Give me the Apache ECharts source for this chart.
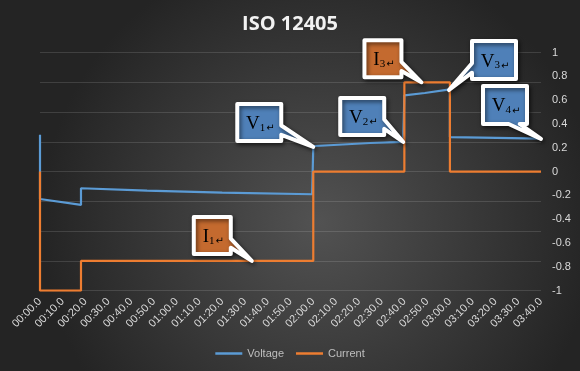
<!DOCTYPE html>
<html>
<head>
<meta charset="utf-8">
<script src="https://cdn.jsdelivr.net/npm/echarts@6/dist/echarts.min.js"></script>
<style>html,body{margin:0;padding:0;background:#2b2b2b;}#c{width:580px;height:371px;}</style>
</head>
<body>
<div id="c"></div>
<script>
// ---- data (time in seconds) ----
const voltageTime  = [0,    0,     18,    18,    47,    80,    119.5, 120,   121,  145,  159.5, 160,  169,  180,  180,  194,   220];
const voltageValue = [0.31, -0.23, -0.28, -0.14, -0.16, -0.177, -0.19, 0.21, 0.215, 0.24, 0.25, 0.64, 0.66, 0.69, 0.29, 0.285, 0.277];
const currentTime  = [0, 0,  18, 18,    120,   120, 160, 160,  180,  180, 220];
const currentValue = [0, -1, -1, -0.75, -0.75, 0,   0,   0.75, 0.75, 0,   0];
const rightTicks = [-1, -0.8, -0.6, -0.4, -0.2, 0, 0.2, 0.4, 0.6, 0.8, 1];
// callout annotations: label, subscript, anchor time, anchor value
const calloutText   = ['V', 'V', 'I', 'V', 'V', 'I'];
const calloutSub    = ['1', '2', '3', '3', '4', '1'];
const calloutTime   = [120, 159.5, 167.5, 179.6, 220, 93];
const calloutValue  = [0.207, 0.249, 0.75, 0.685, 0.274, -0.75];
const calloutKind   = ['v', 'v', 'i', 'v', 'v', 'i'];
// box placement relative to tip (style only)
const calloutBox = [
  [-78, -45, 48, 41], [-65, -46, 48, 41], [-59, -44, 41, 41],
  [21, -51, 48, 42], [-60, -55, 48, 42], [-60, -46, 41, 41]
];

const pad = n => String(n).padStart(2, '0');
const fmtTime = s => pad(Math.floor(s / 60)) + ':' + pad(s % 60) + '.0';

const chart = echarts.init(document.getElementById('c'), null, {renderer: 'canvas'});
const option = {
  backgroundColor: {
    type: 'radial', x: 0.55, y: 0.6, r: 0.75,
    colorStops: [{offset: 0, color: '#525252'}, {offset: 1, color: '#242424'}]
  },
  animation: false,
  title: {
    text: 'ISO 12405', left: 'center', top: 9,
    textStyle: {color: '#F2F2F2', fontSize: 20, fontWeight: 'bold', fontFamily: 'Open Sans'}
  },
  legend: {
    bottom: 7, left: 'center', icon: 'rect', itemWidth: 27, itemHeight: 2.5, itemGap: 12,
    textStyle: {color: '#BFBFBF', fontSize: 11, fontFamily: 'Liberation Sans'},
    data: ['Voltage', 'Current']
  },
  grid: {left: 40, right: 39, top: 52.5, bottom: 80.3},
  xAxis: {
    type: 'value', min: 0, max: 220, interval: 10,
    axisLine: {show: false}, axisTick: {show: false}, splitLine: {show: false},
    axisLabel: {
      rotate: 45, margin: 9, color: '#D9D9D9', fontSize: 11, fontFamily: 'Liberation Sans',
      formatter: v => fmtTime(v), showMinLabel: true, showMaxLabel: true
    }
  },
  yAxis: [
    {
      type: 'value', position: 'left', min: -1, max: 1, interval: 0.25,
      axisLabel: {show: false}, axisLine: {show: false}, axisTick: {show: false},
      splitLine: {show: true, lineStyle: {color: 'rgba(255,255,255,0.13)', width: 1}}
    },
    {
      type: 'value', position: 'right', min: -1, max: 1, interval: 0.2,
      axisLine: {show: false}, axisTick: {show: false}, splitLine: {show: false},
      axisLabel: {
        color: '#D9D9D9', fontSize: 11, fontFamily: 'Liberation Sans', margin: 11,
        formatter: v => {
          const r = Math.round(v * 10) / 10;
          return rightTicks.indexOf(r) >= 0 ? String(r) : '';
        }
      }
    }
  ],
  series: [
    {
      name: 'Voltage', type: 'line', yAxisIndex: 1, symbol: 'none',
      lineStyle: {color: '#5B9BD5', width: 2.2}, itemStyle: {color: '#5B9BD5'},
      data: voltageTime.map((t, i) => [t, voltageValue[i]]), z: 2
    },
    {
      name: 'Current', type: 'line', yAxisIndex: 1, symbol: 'none',
      lineStyle: {color: '#ED7D31', width: 2.2}, itemStyle: {color: '#ED7D31'},
      data: currentTime.map((t, i) => [t, currentValue[i]]), z: 3
    }
  ]
};
chart.setOption(option);

function buildCallout(i) {
  const tip = chart.convertToPixel({xAxisIndex: 0, yAxisIndex: 1}, [calloutTime[i], calloutValue[i]]);
  const b = calloutBox[i];
  const x0 = tip[0] + b[0] + 2, y0 = tip[1] + b[1] + 2, w = b[2] - 4, h = b[3] - 4;
  const x1 = x0 + w, y1 = y0 + h;
  const cx = x0 + w / 2, cy = y0 + h / 2;
  const dx = (tip[0] - cx) / w, dy = (tip[1] - cy) / h;
  let pts;
  if (Math.abs(dx) >= Math.abs(dy)) {
    const ya = y0 + h * (dy > 0 ? 7 / 12 : 2 / 12), yb = y0 + h * (dy > 0 ? 10 / 12 : 5 / 12);
    if (dx > 0) pts = [[x0, y0], [x1, y0], [x1, ya], tip, [x1, yb], [x1, y1], [x0, y1]];
    else pts = [[x0, y0], [x1, y0], [x1, y1], [x0, y1], [x0, yb], tip, [x0, ya]];
  } else {
    const xa = x0 + w * (dx > 0 ? 7 / 12 : 2 / 12), xb = x0 + w * (dx > 0 ? 10 / 12 : 5 / 12);
    if (dy > 0) pts = [[x0, y0], [x1, y0], [x1, y1], [xb, y1], tip, [xa, y1], [x0, y1]];
    else pts = [[x0, y0], [xa, y0], tip, [xb, y0], [x1, y0], [x1, y1], [x0, y1]];
  }
  const fill = calloutKind[i] === 'v' ? '#4F80B8' : '#C46A2F';
  return [
    {
      type: 'polygon', z: 100,
      shape: {points: pts},
      style: {
        fill: fill, stroke: '#FFFFFF', lineWidth: 4, lineJoin: 'round',
        shadowBlur: 4, shadowOffsetX: 1.5, shadowOffsetY: 2, shadowColor: 'rgba(0,0,0,0.55)'
      }
    },
    {
      type: 'text', z: 101,
      style: {
        x: cx + 1, y: cy + 1, align: 'center', verticalAlign: 'middle',
        text: '{m|' + calloutText[i] + '}{s|' + calloutSub[i] + '}{r|\u21B5}',
        rich: {
          m: {fontSize: 19, fontFamily: 'Liberation Serif', color: '#111', verticalAlign: 'bottom', lineHeight: 20},
          s: {fontSize: 11, fontFamily: 'Liberation Serif', color: '#111', verticalAlign: 'bottom', lineHeight: 12},
          r: {fontSize: 10, fontFamily: 'DejaVu Sans', color: '#8a8a8a', verticalAlign: 'bottom', lineHeight: 16, padding: [0, 0, 0, 1]}
        }
      }
    }
  ];
}
let elems = [];
for (let i = 0; i < calloutText.length; i++) elems = elems.concat(buildCallout(i));
chart.setOption({graphic: elems});
</script>
</body>
</html>
